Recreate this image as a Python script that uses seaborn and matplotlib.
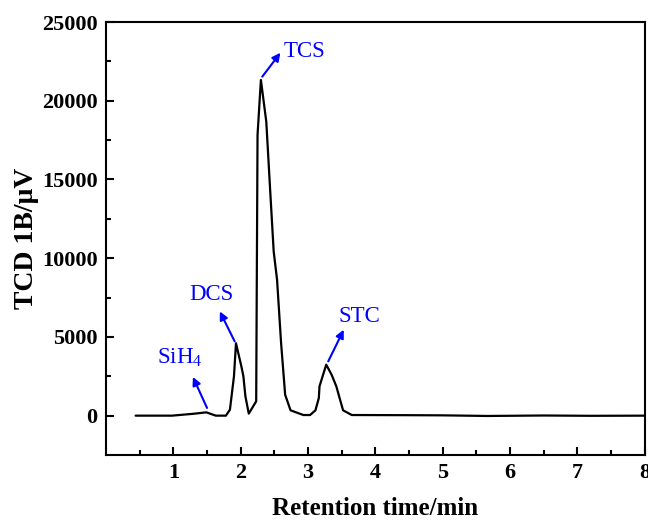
import matplotlib
matplotlib.use("Agg")
import matplotlib.pyplot as plt
import seaborn as sns
import pandas as pd

# Retention time (min) and TCD signal (µV)
time_min = [0.44, 0.98, 1.30, 1.49, 1.63, 1.78, 1.84, 1.90, 1.93, 2.01, 2.04, 2.07,
            2.12, 2.23, 2.25, 2.30, 2.38, 2.44, 2.49, 2.54, 2.60, 2.66, 2.74, 2.93,
            3.03, 3.11, 3.16, 3.17, 3.27, 3.35, 3.42, 3.52, 3.65, 4.50, 5.00, 5.66,
            6.50, 7.20, 8.00]
signal_uv = [0, 0, 120, 210, 0, 0, 380, 2500, 4600, 3130, 2500, 1220,
             130, 910, 17830, 21320, 18670, 14130, 10420, 8630, 4600, 1330, 340, 40,
             40, 340, 1120, 1860, 3240, 2600, 1860, 340, 40, 30, 20, -20,
             10, -10, 0]

# Peak annotations: label, text position, arrow tail (on peak), arrow head
peak_labels = ["SiH$_4$", "DCS", "TCS", "STC"]
label_xy = [(1.09, 3650), (1.56, 7700), (2.95, 23100), (3.76, 6300)]
arrow_tail = [(1.50, 490), (1.91, 4720), (2.32, 21530), (3.30, 3450)]
arrow_head = [(1.29, 2460), (1.69, 6620), (2.59, 23050), (3.53, 5460)]

sns.set_theme(style="ticks")
plt.rcParams['font.family'] = ['Liberation Serif', 'DejaVu Serif']
plt.rcParams['mathtext.fontset'] = 'custom'
plt.rcParams['mathtext.rm'] = 'Liberation Serif'
plt.rcParams['mathtext.it'] = 'Liberation Serif:italic'
plt.rcParams['mathtext.bf'] = 'Liberation Serif:bold'
plt.rcParams['text.color'] = 'black'
plt.rcParams['axes.labelcolor'] = 'black'
plt.rcParams['xtick.color'] = 'black'
plt.rcParams['ytick.color'] = 'black'

df = pd.DataFrame({"t": time_min, "s": signal_uv})

fig = plt.figure(figsize=(6.48, 5.25), dpi=100)
ax = fig.add_axes([0.1636, 0.1333, 0.8314, 0.8247])

sns.lineplot(data=df, x="t", y="s", ax=ax, color="black", linewidth=1.6,
             sort=False, estimator=None)

ax.set_xlim(0, 8)
ax.set_ylim(-2500, 25000)
ax.set_xticks([1, 2, 3, 4, 5, 6, 7, 8])
ax.set_xticks([0.5 + i for i in range(8)], minor=True)
ax.set_yticks([0, 5000, 10000, 15000, 20000, 25000])
ax.set_yticks([2500, 7500, 12500, 17500, 22500], minor=True)

ax.tick_params(axis="both", which="major", direction="in", length=6, width=1.5,
               labelsize=16, pad=6, colors="black")
ax.tick_params(axis="both", which="minor", direction="in", length=3.5, width=1.5,
               colors="black")
ax.tick_params(top=False, right=False, which="both")
for lab in ax.get_xticklabels() + ax.get_yticklabels():
    lab.set_fontweight("bold")
for sp in ax.spines.values():
    sp.set_linewidth(1.5)
    sp.set_color("black")

ax.set_xlabel("Retention time/min", fontsize=18, fontweight="bold", labelpad=10,
              color="black")
ax.set_ylabel("TCD 1B/μV", fontsize=20, fontweight="bold", labelpad=2,
              color="black")

for lab, (tx, ty), (ax0, ay0), (hx, hy) in zip(peak_labels, label_xy, arrow_tail, arrow_head):
    ax.text(tx, ty, lab, color="blue", fontsize=16.5, ha="center", va="center")
    ax.annotate("", xy=(hx, hy), xytext=(ax0, ay0),
                arrowprops=dict(arrowstyle="-|>", color="blue", lw=1.5,
                                mutation_scale=12, shrinkA=0, shrinkB=0))

fig.savefig("out.png", dpi=100)
